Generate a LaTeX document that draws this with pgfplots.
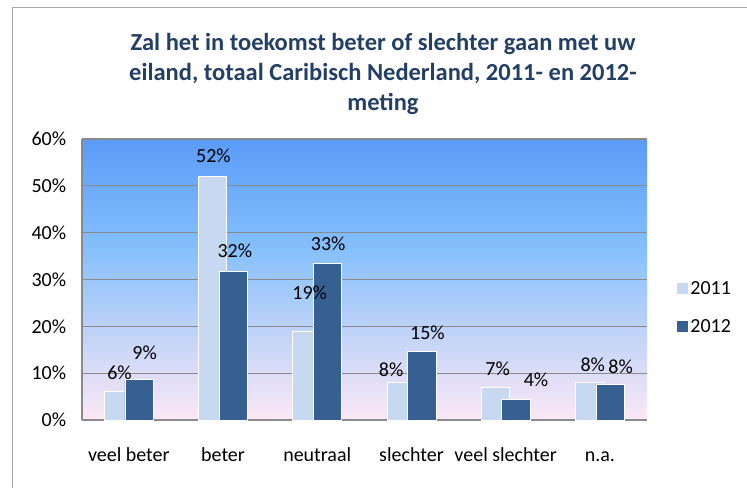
\documentclass[border=0pt]{standalone}
\usepackage{pgfplots}
\pgfplotsset{compat=1.18}
\usepackage{pgfplotstable}
\usepackage{fontspec}
\setmainfont{Carlito}
\definecolor{c2011}{HTML}{C6D9F1}
\definecolor{c2012}{HTML}{376092}
\definecolor{titlec}{HTML}{243F66}
\definecolor{gridc}{HTML}{8A8A8A}
\definecolor{framec}{HTML}{A6A6A6}
\definecolor{bgtop}{HTML}{5A9BF8}
\definecolor{bgmid}{HTML}{84BFFB}
\definecolor{bgbot}{HTML}{FCE8F6}
\pgfdeclareverticalshading{plotbg}{100bp}{color(0bp)=(bgbot); color(25bp)=(bgbot); color(56bp)=(bgmid); color(75bp)=(bgtop); color(100bp)=(bgtop)}

\pgfplotstableread{
x y lab dx dy
0 6.07 6 -9.3 19
1 52.1 52 -9.6 20.7
2 18.9 19 -7.5 38.7
3 8.0 8 -20.3 12.7
4 7.0 7 -8 18
5 8.07 8 -7.1 17.3
}\tableA
\pgfplotstableread{
x y lab dx dy
0 8.57 9 15.9 27.3
1 31.8 32 11.8 20
2 33.4 33 11 20
3 14.6 15 16 18.4
4 4.3 4 30.3 20
5 7.57 8 20.8 17.7
}\tableB

\begin{document}
\begin{tikzpicture}[x=1pt,y=1pt]
\path[use as bounding box] (0,0) rectangle (747,488);
\draw[framec, line width=1pt] (12,0) -- (12,480) -- (747,480);
\node[align=center, text=titlec, font=\fontsize{24.5}{30}\selectfont\bfseries] at (383,414)
  {Zal het in toekomst beter of slechter gaan met uw\\eiland, totaal Caribisch Nederland, 2011- en 2012-\\meting};
\begin{axis}[
  at={(81.7pt,68pt)}, anchor=south west,
  scale only axis, width=565.3pt, height=281pt,
  xmin=-0.5, xmax=5.5, ymin=0, ymax=60,
  xtick={0,1,2,3,4,5},
  xticklabels={veel beter, beter, neutraal, slechter, veel slechter, n.a.},
  ytick={0,10,20,30,40,50,60},
  yticklabel={\pgfmathprintnumber{\tick}\%},
  /pgf/number format/assume math mode=true,
  ymajorgrids, grid style={gridc, line width=1.2pt},
  axis x line*=bottom, axis y line*=left,
  axis line style={gridc, line width=1.8pt, -},
  major tick length=0pt,
  tick label style={font=\fontsize{20}{24}\selectfont, text=black},
  yticklabel style={xshift=-12pt},
  xticklabel style={anchor=base, yshift=-41pt},
  axis background/.style={shading=plotbg},
  legend style={at={(1.045,0.40)}, anchor=west, draw=none, fill=none,
    font=\fontsize{20}{24}\selectfont, row sep=19pt},
  legend cell align=left,
  legend image code/.code={\fill[#1] (0pt,-6pt) rectangle (12pt,6pt);},
  visualization depends on={\thisrow{dx} \as \myDX},
  visualization depends on={\thisrow{dy} \as \myDY},
  nodes near coords={\pgfmathprintnumber{\pgfplotspointmeta}\%},
  nodes near coords style={anchor=center, font=\fontsize{20}{24}\selectfont, text=black,
    xshift=\myDX pt, yshift=\myDY pt},
  point meta=explicit,
]
\addplot[ybar, bar width=28.3pt, bar shift=-10.3pt, fill=c2011, draw=white, line width=0.8pt]
  table[x=x, y=y, meta=lab] {\tableA};
\addlegendentry{2011}
\addplot[ybar, bar width=28.3pt, bar shift=10.3pt, fill=c2012, draw=white, line width=0.8pt]
  table[x=x, y=y, meta=lab] {\tableB};
\addlegendentry{2012}
\end{axis}
\end{tikzpicture}
\end{document}
